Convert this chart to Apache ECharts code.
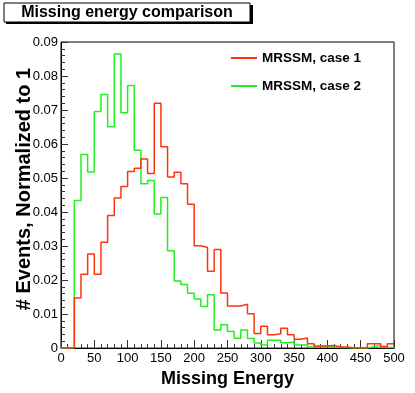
<!DOCTYPE html>
<html>
<head>
<meta charset="utf-8">
<script src="https://cdn.jsdelivr.net/npm/echarts@6/dist/echarts.min.js"></script>
<style>
  html, body { margin: 0; padding: 0; background: #fff; }
  #chart { width: 415px; height: 393px; }
</style>
</head>
<body>
<div id="chart"></div>
<script>
// lower edges of the 10-wide bins
var binLow = [0, 10, 20, 30, 40, 50, 60, 70, 80, 90,
  100, 110, 120, 130, 140, 150, 160, 170, 180, 190,
  200, 210, 220, 230, 240, 250, 260, 270, 280, 290,
  300, 310, 320, 330, 340, 350, 360, 370, 380, 390,
  400, 410, 420, 430, 440, 450, 460, 470, 480, 490]
var xMax = 500

var case1 = [0, 0, 0.0147, 0.0217, 0.0277, 0.0217, 0.0311, 0.0390, 0.0441, 0.0475,
  0.0519, 0.0529, 0.0556, 0.0513, 0.0720, 0.0592, 0.0503, 0.0517, 0.0483, 0.0423,
  0.0301, 0.0296, 0.0226, 0.0290, 0.0162, 0.0124, 0.0124, 0.0129, 0.0101, 0.0043,
  0.0064, 0.0039, 0.0042, 0.0058, 0.0039, 0.0026, 0.0030, 0.0013, 0.0006, 0.0006,
  0.0008, 0.0003, 0.0003, 0, 0, 0, 0.0013, 0.0013, 0.0005, 0.0013]

var case2 = [0, 0, 0.0434, 0.0569, 0.0518, 0.0696, 0.0746, 0.0651, 0.0865, 0.0692,
  0.0772, 0.0582, 0.0483, 0.0493, 0.0394, 0.0443, 0.0286, 0.0197, 0.0187, 0.0161,
  0.0144, 0.0122, 0.0157, 0.0053, 0.0069, 0.0049, 0.0029, 0.0053, 0.0028, 0.0015,
  0.0009, 0.0023, 0.0023, 0.0016, 0.0018, 0.0009, 0.0009, 0.0003, 0.0005, 0.0005,
  0.0004, 0.0002, 0.0002, 0, 0, 0, 0.0004, 0.0008, 0.0002, 0.0002]

var names = ['MRSSM, case 1', 'MRSSM, case 2']
var font = 'Liberation Sans, Arial, Helvetica, sans-serif'

function histPoints (vals) {
  let pts = binLow.map((x, i) => [x, vals[i]])
  pts.push([xMax, vals[vals.length - 1]])
  return pts
}

let dom = echarts.init(document.getElementById('chart'))
let option = {
  backgroundColor: '#fff',
  animation: false,
  textStyle: { fontFamily: font },
  grid: {
    left: 61, right: 21, top: 42, bottom: 40,
    show: true, borderColor: '#000', borderWidth: 1
  },
  graphic: [
    { type: 'rect', shape: { x: 6, y: 5, width: 247, height: 19 }, style: { fill: '#000' } },
    { type: 'rect', shape: { x: 4, y: 3, width: 246, height: 19 }, style: { fill: '#fff', stroke: '#000', lineWidth: 1 } },
    {
      type: 'text', x: 127, y: 13,
      style: {
        text: 'Missing energy comparison', fill: '#000',
        font: 'bold 16px ' + font, align: 'center', verticalAlign: 'middle'
      }
    },
    // y title drawn by hand so it can sit a bit above the plot centre like ROOT does
    {
      type: 'text', x: 24, y: 189, rotation: Math.PI / 2,
      style: {
        text: '# Events, Normalized to 1', fill: '#000',
        font: 'bold 20px ' + font, align: 'center', verticalAlign: 'middle'
      }
    }
  ],
  legend: {
    data: names,
    orient: 'vertical',
    left: 226,
    top: 46,
    itemWidth: 26,
    itemHeight: 2,
    itemGap: 14,
    icon: 'rect',
    textStyle: { fontSize: 13.5, fontWeight: 'bold', color: '#000', fontFamily: font }
  },
  xAxis: {
    type: 'value',
    min: 0, max: xMax, interval: 50,
    name: 'Missing Energy',
    nameLocation: 'middle',
    nameGap: 18,
    nameTextStyle: { fontSize: 18, fontWeight: 'bold', color: '#000' },
    axisLine: { lineStyle: { color: '#000' } },
    axisTick: { inside: true, length: 8, lineStyle: { color: '#333' } },
    minorTick: { show: true, splitNumber: 5, length: 4, lineStyle: { color: '#333' } },
    axisLabel: { fontSize: 13, color: '#000', margin: 4 },
    splitLine: { show: false }
  },
  yAxis: {
    type: 'value',
    min: 0, max: 0.09, interval: 0.01,
    axisLine: { show: true, lineStyle: { color: '#000' } },
    axisTick: { inside: true, length: 7, lineStyle: { color: '#333' } },
    minorTick: { show: true, splitNumber: 5, length: 4, lineStyle: { color: '#333' } },
    axisLabel: {
      fontSize: 13, color: '#000', margin: 3,
      formatter: v => v === 0 ? '0' : v.toFixed(2)
    },
    splitLine: { show: false }
  },
  series: [
    {
      name: names[1], type: 'line', step: 'end', showSymbol: false,
      data: histPoints(case2),
      color: '#22ee22',
      lineStyle: { width: 1.5, color: '#22ee22' }
    },
    {
      name: names[0], type: 'line', step: 'end', showSymbol: false,
      data: histPoints(case1),
      color: '#ff3311',
      lineStyle: { width: 1.5, color: '#ff3311' }
    }
  ]
}
dom.setOption(option)
window.addEventListener('resize', dom.resize)
</script>
</body>
</html>
